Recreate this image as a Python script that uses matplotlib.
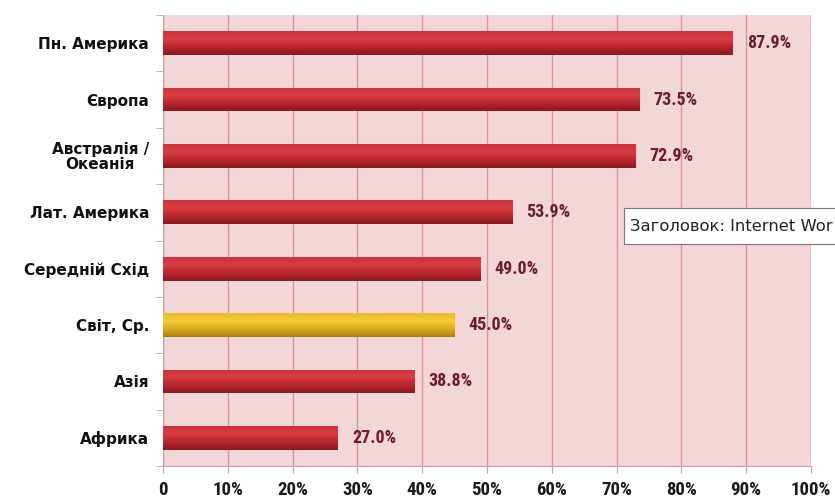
import numpy as np
import matplotlib.pyplot as plt
from matplotlib import font_manager
from matplotlib.colors import LinearSegmentedColormap
from matplotlib.patches import Rectangle

regions = ["Пн. Америка", "Європа", "Австралія /\nОкеанія", "Лат. Америка",
           "Середній Схід", "Світ, Ср.", "Азія", "Африка"]
values = [87.9, 73.5, 72.9, 53.9, 49.0, 45.0, 38.8, 27.0]
highlight = "Світ, Ср."
xticks = [0, 10, 20, 30, 40, 50, 60, 70, 80, 90, 100]
xtick_labels = ["0"] + [f"{t}%" for t in xticks[1:]]
tooltip = "Заголовок: Internet Wor"

# pick a narrow bold face if one is around
names = {f.name for f in font_manager.fontManager.ttflist}
narrow, stretch = "DejaVu Sans", "condensed"
for cand in ["Liberation Sans Narrow", "Roboto Condensed", "DejaVu Sans Condensed"]:
    if cand in names:
        narrow, stretch = cand, "normal"
        break

fig = plt.figure(figsize=(8.35, 4.99), dpi=100)
ax = fig.add_axes([0.1952, 0.066, 0.776, 0.904])
ax.set_facecolor("#f2d6d8")

y = np.arange(len(regions))[::-1]
cols = ["#e2b21e" if r == highlight else "#c0282e" for r in regions]
bars = ax.barh(y, values, height=0.42, color=cols, zorder=3)

# vertical shading on each bar
red = LinearSegmentedColormap.from_list("r", ["#8a1a20", "#b8262c", "#d83c42", "#c8343a"])
gold = LinearSegmentedColormap.from_list("g", ["#a88010", "#dcaa20", "#f4c838", "#eabc2c"])
grad = np.linspace(0, 1, 50).reshape(-1, 1)
for b, r in zip(bars, regions):
    x0, y0 = b.get_x(), b.get_y()
    im = ax.imshow(grad, aspect="auto", cmap=gold if r == highlight else red, origin="lower",
                   extent=(x0, x0 + b.get_width(), y0, y0 + b.get_height()), zorder=3)
    im.set_clip_path(b)

for yy, v in zip(y, values):
    ax.text(v + 2.2, yy, f"{v:.1f}%", va="center", ha="left", fontsize=13,
            fontweight="bold", color="#6e1c2c", family=narrow, fontstretch=stretch, zorder=5)

ax.set_xlim(0, 100)
ax.set_ylim(-0.5, len(regions) - 0.5)
ax.set_xticks(xticks)
ax.set_xticklabels(xtick_labels, fontsize=13.5, fontweight="bold", family=narrow,
                   fontstretch=stretch, color="#1a1a1a")
ax.grid(axis="x", color="#d9959b", linewidth=1, zorder=1)
ax.set_axisbelow(True)

ax.set_yticks(y)
ax.set_yticklabels(regions, fontsize=11, fontweight="bold", linespacing=0.95, color="#111111")
for lbl in ax.get_yticklabels():
    lbl.set_multialignment("center")
ax.set_yticks(np.arange(len(regions) + 1) - 0.5, minor=True)
ax.tick_params(axis="y", which="major", length=0, pad=10)
ax.tick_params(axis="y", which="minor", length=5, color="#c9a0a4")
ax.tick_params(axis="x", length=5, color="#c9a0a4", pad=6)

for s in ["top", "right"]:
    ax.spines[s].set_visible(False)
ax.spines["left"].set_color("#c9a0a4")
ax.spines["bottom"].set_color("#c9a0a4")

# tooltip box running off the right edge
fig.patches.append(Rectangle((0.747, 0.511), 0.3, 0.072, transform=fig.transFigure,
                             fc="white", ec="#777777", lw=0.8, zorder=10))
fig.text(0.754, 0.546, tooltip, fontsize=11.8, color="#222222",
         va="center", ha="left", zorder=11)

fig.savefig("out.png", dpi=100)
